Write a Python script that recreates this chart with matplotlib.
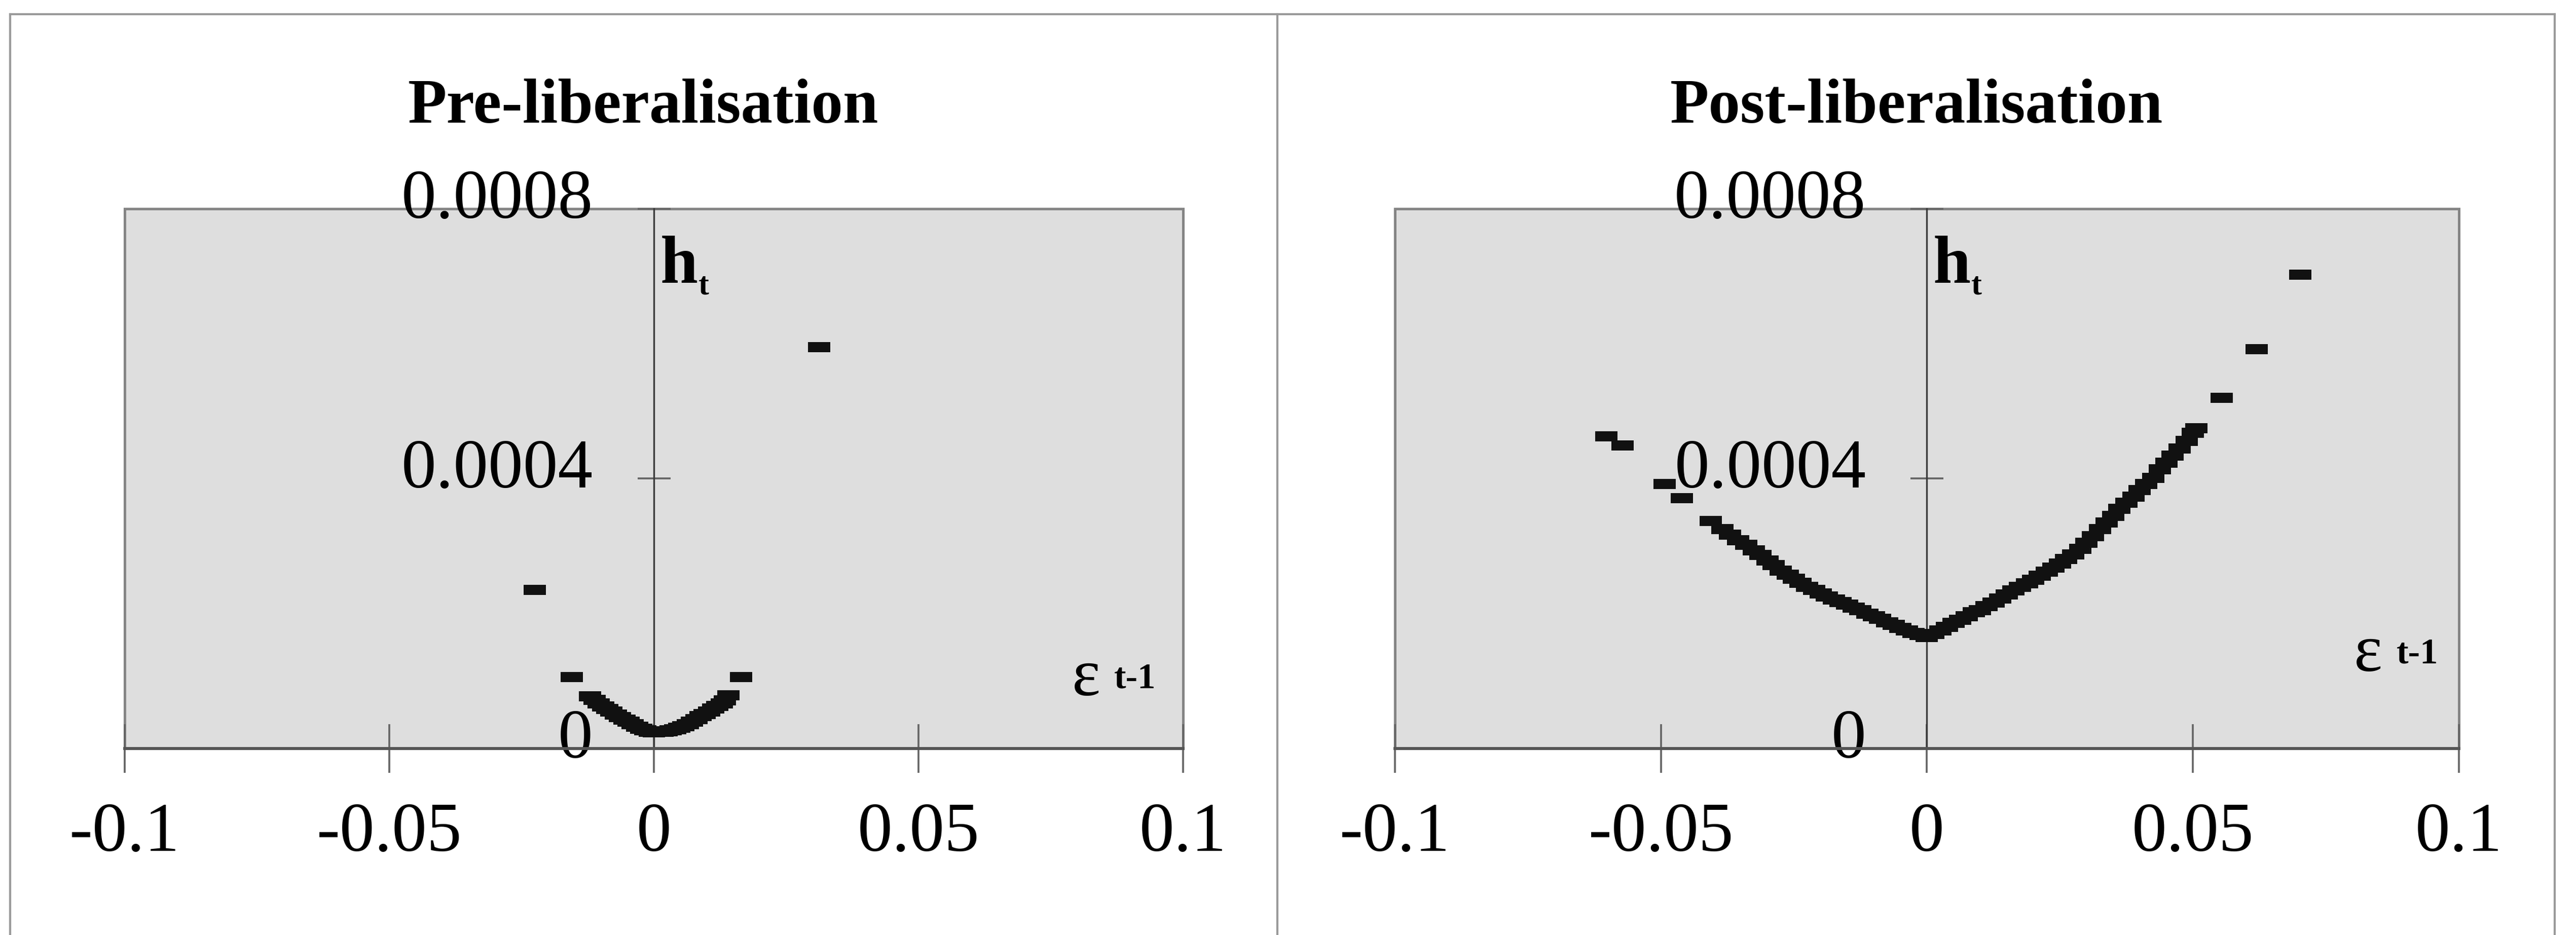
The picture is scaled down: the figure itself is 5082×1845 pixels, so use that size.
import matplotlib
matplotlib.use("Agg")
import matplotlib.pyplot as plt
from matplotlib.path import Path
from matplotlib.patches import Rectangle
from matplotlib.lines import Line2D
import matplotlib.transforms as mtransforms

plt.rcParams['font.family'] = ['Liberation Serif', 'DejaVu Serif']

# ---------------- data ----------------
titles = ["Pre-liberalisation", "Post-liberalisation"]

pre_eps = [-0.0225, -0.0155, 0.0165, 0.0312,
           -0.0121, -0.0112, -0.0104, -0.0096, -0.0088, -0.0080, -0.0072, -0.0064,
           -0.0056, -0.0048, -0.0040, -0.0032, -0.0024, -0.0016, -0.0008, 0.0000,
           0.0008, 0.0016, 0.0024, 0.0032, 0.0040, 0.0048, 0.0056, 0.0064,
           0.0072, 0.0080, 0.0088, 0.0096, 0.0104, 0.0112, 0.0120, 0.0128,
           0.0134, 0.0141]
pre_h = [0.000235, 0.000106, 0.000106, 0.000595,
         0.0000770, 0.0000720, 0.0000672, 0.0000625, 0.0000585, 0.0000545, 0.0000505, 0.0000468,
         0.0000430, 0.0000395, 0.0000360, 0.0000325, 0.0000295, 0.0000270, 0.0000250, 0.0000240,
         0.0000245, 0.0000250, 0.0000258, 0.0000268, 0.0000285, 0.0000305, 0.0000330, 0.0000360,
         0.0000395, 0.0000435, 0.0000478, 0.0000510, 0.0000548, 0.0000590, 0.0000630, 0.0000665,
         0.0000710, 0.0000790]

post_eps = [-0.0603, -0.0572, -0.0493, -0.0461, 0.0554, 0.0620, 0.0702,
            -0.0406, -0.0384, -0.0370, -0.0355, -0.0340, -0.0325, -0.0313, -0.0300,
            -0.0288, -0.0275, -0.0262, -0.0250, -0.0238, -0.0225, -0.0212, -0.0200,
            -0.0188, -0.0175, -0.0162, -0.0150, -0.0138, -0.0125, -0.0112, -0.0100,
            -0.0088, -0.0075, -0.0062, -0.0050, -0.0038, -0.0025, -0.0012, 0.0000,
            0.0012, 0.0025, 0.0038, 0.0050, 0.0062, 0.0075, 0.0088, 0.0100,
            0.0112, 0.0125, 0.0138, 0.0150, 0.0162, 0.0175, 0.0188, 0.0200,
            0.0212, 0.0225, 0.0238, 0.0250, 0.0262, 0.0275, 0.0288, 0.0300,
            0.0312, 0.0325, 0.0338, 0.0350, 0.0362, 0.0375, 0.0388, 0.0400,
            0.0412, 0.0425, 0.0438, 0.0450, 0.0462, 0.0475, 0.0488, 0.0500, 0.0506]
post_h = [0.000463, 0.000449, 0.000392, 0.000371, 0.000520, 0.000592, 0.000702,
          0.000337, 0.000325, 0.000317, 0.000309, 0.000302, 0.000294, 0.000287, 0.000279,
          0.000272, 0.000264, 0.000258, 0.000252, 0.000246, 0.000240, 0.000235, 0.000230,
          0.000225, 0.000221, 0.000217, 0.000213, 0.000209, 0.000205, 0.000200, 0.000196,
          0.000192, 0.000187, 0.000183, 0.000179, 0.000175, 0.000171, 0.000168, 0.000165,
          0.000170, 0.000175, 0.000180, 0.000186, 0.000191, 0.000196, 0.000202, 0.000205,
          0.000211, 0.000216, 0.000222, 0.000228, 0.000234, 0.000240, 0.000245, 0.000250,
          0.000256, 0.000262, 0.000268, 0.000274, 0.000281, 0.000288, 0.000296, 0.000305,
          0.000315, 0.000325, 0.000335, 0.000345, 0.000355, 0.000364, 0.000373, 0.000383,
          0.000392, 0.000401, 0.000414, 0.000424, 0.000434, 0.000445, 0.000456, 0.000468, 0.000475]

x_ticks = [-0.1, -0.05, 0, 0.05, 0.1]
x_tick_labels = ["-0.1", "-0.05", "0", "0.05", "0.1"]
y_ticks = [0, 0.0004, 0.0008]
y_tick_labels = ["0", "0.0004", "0.0008"]

# ---------------- figure ----------------
W, H, DPI = 5083, 1845, 300
fig = plt.figure(figsize=(W / DPI, H / DPI), dpi=DPI)
fig.patch.set_facecolor("white")

def px_rect(l, b, w, h):
    return [l / W, b / H, w / W, h / H]

axes_rects = [px_rect(246, 368, 2088, 1065), px_rect(2752, 368, 2099, 1065)]
series = [(pre_eps, pre_h), (post_eps, post_h)]
eps_pos = [(0.0790, 0.0000785), (0.0803, 0.000115)]

dash = Path([(-1, -0.45), (1, -0.45), (1, 0.45), (-1, 0.45), (-1, -0.45)],
            [Path.MOVETO, Path.LINETO, Path.LINETO, Path.LINETO, Path.CLOSEPOLY])

for i, rect in enumerate(axes_rects):
    ax = fig.add_axes(rect)
    ax.set_facecolor("#dedede")
    ax.set_xlim(-0.1, 0.1)
    ax.set_ylim(0, 0.0008)

    # plot area border
    ax.add_patch(Rectangle((0, 0), 1, 1, transform=ax.transAxes, fill=False,
                           ec="#858585", lw=1.2, clip_on=False, zorder=1))
    for s in ["top", "right"]:
        ax.spines[s].set_visible(False)
    ax.spines["left"].set_position(("data", 0))
    ax.spines["left"].set_color("#3a3a3a")
    ax.spines["left"].set_linewidth(0.8)
    ax.spines["bottom"].set_color("#555555")
    ax.spines["bottom"].set_linewidth(1.4)

    ax.set_xticks(x_ticks, labels=x_tick_labels)
    ax.set_yticks(y_ticks, labels=y_tick_labels)
    ax.tick_params(axis="x", direction="inout", length=23, width=0.9,
                   color="#666666", labelsize=33, pad=14)
    ax.tick_params(axis="y", direction="inout", length=15.6, width=0.9,
                   color="#666666", labelsize=33, pad=21)
    off = mtransforms.ScaledTranslation(0, 7.2 / 72, fig.dpi_scale_trans)
    for lab in ax.get_yticklabels():
        lab.set_transform(lab.get_transform() + off)

    xs, ys = series[i]
    ax.plot(xs, ys, ls="none", marker=dash, ms=10.5, mew=0, color="#111111",
            zorder=3, clip_on=False)

    ax.text(0.49, 1.188, titles[i], transform=ax.transAxes, ha="center",
            va="center", fontsize=30, fontweight="bold")

    # axis labels h_t and epsilon t-1
    ax.text(0.0012, 0.00069, "h", fontsize=32, fontweight="bold",
            ha="left", va="baseline")
    ax.annotate("t", xy=(0.0012, 0.00069), xytext=(18, -5.3),
                textcoords="offset points", fontsize=15, fontweight="bold",
                ha="left", va="baseline")
    ex, ey = eps_pos[i]
    ax.text(ex, ey, "ε", fontsize=32, ha="left", va="baseline")
    ax.annotate("t-1", xy=(ex, ey), xytext=(20, 3.6), textcoords="offset points",
                fontsize=17, fontweight="bold", ha="left", va="baseline")

# outer frame lines
fc = "#9a9a9a"
top = 1 - 28 / H
fig.add_artist(Line2D([20 / W, 5040 / W], [top, top], color=fc, lw=1.0,
                      transform=fig.transFigure))
for xp in [20, 2520, 5040]:
    fig.add_artist(Line2D([xp / W, xp / W], [0, top], color=fc, lw=1.0,
                          transform=fig.transFigure))

fig.savefig("out.png", dpi=DPI, facecolor="white")
